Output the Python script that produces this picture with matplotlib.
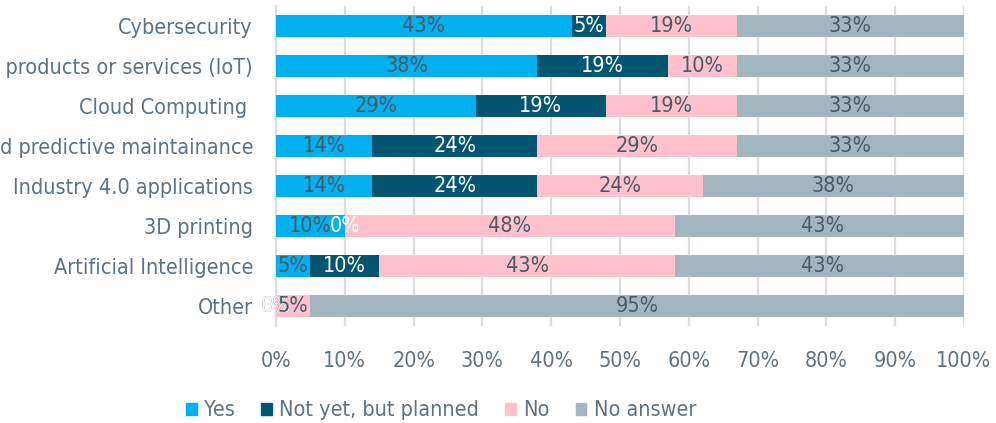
import numpy as np
import matplotlib.pyplot as plt
from matplotlib.patches import Patch

categories = [
    "Cybersecurity",
    "Connected products or services (IoT)",
    "Cloud Computing ",
    "Data analytics and predictive maintainance",
    "Industry 4.0 applications",
    "3D printing",
    "Artificial Intelligence",
    "Other",
]
series_names = ["Yes", "Not yet, but planned", "No", "No answer"]
yes = [43, 38, 29, 14, 14, 10, 5, 0]
planned = [5, 19, 19, 24, 24, 0, 10, 0]
no = [19, 10, 19, 29, 24, 48, 43, 5]
no_answer = [33, 33, 33, 33, 38, 43, 43, 95]
x_ticks = [0, 10, 20, 30, 40, 50, 60, 70, 80, 90, 100]

colors = ["#00b0f0", "#03566f", "#ffc1cb", "#a3b6c0"]
label_colors = ["#4a5a66", "#ffffff", "#4a5a66", "#4a5a66"]
axis_color = "#5e7282"
grid_color = "#d7dee2"

plt.rcParams["font.family"] = ["DejaVu Sans"]
plt.rcParams["font.stretch"] = "condensed"

fig = plt.figure(figsize=(9.96, 4.23), dpi=100)
ax = fig.add_axes([276 / 996, 97 / 423, 688 / 996, 320 / 423])

y = np.arange(len(categories))
left = np.zeros(len(categories))
for name, vals, c, tc in zip(series_names, [yes, planned, no, no_answer], colors, label_colors):
    vals = np.array(vals, dtype=float)
    ax.barh(y, vals, left=left, height=0.55, color=c, label=name, zorder=3)
    for yi, (l, v) in enumerate(zip(left, vals)):
        ax.text(l + v / 2, yi, f"{int(v)}%", ha="center", va="center",
                color=tc, fontsize=15.5, zorder=5, clip_on=False)
    left += vals

ax.set_xlim(0, 100)
ax.set_ylim(len(categories) - 0.5, -0.5)
ax.set_xticks(x_ticks)
ax.set_xticklabels([f"{t}%" for t in x_ticks])
ax.set_yticks(y)
ax.set_yticklabels(categories)
ax.tick_params(axis="both", length=0, labelsize=15.5, colors=axis_color)
ax.tick_params(axis="x", pad=18)
ax.tick_params(axis="y", pad=16.5)
ax.xaxis.grid(True, color=grid_color, linewidth=1.6, zorder=0)
for s in ["top", "right", "bottom"]:
    ax.spines[s].set_visible(False)
ax.spines["left"].set_color(grid_color)
ax.spines["left"].set_linewidth(1.6)

handles = [Patch(color=c) for c in colors]
fig.legend(handles, series_names, loc="center", bbox_to_anchor=(0.443, 0.03),
           ncol=4, frameon=False, fontsize=15.5, labelcolor=axis_color,
           handlelength=0.5, handleheight=0.5, handletextpad=0.35, columnspacing=1.2)

fig.savefig("out.png", dpi=100)
